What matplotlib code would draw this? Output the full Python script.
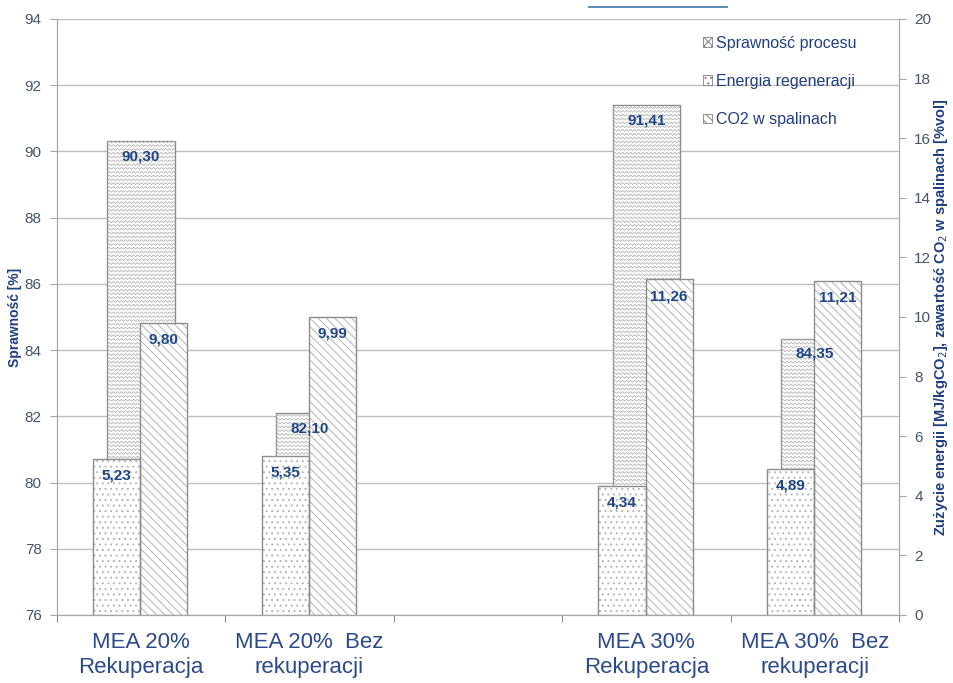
import numpy as np
import matplotlib
matplotlib.use('Agg')
import matplotlib.pyplot as plt
from matplotlib.patches import Patch
from matplotlib.collections import LineCollection
from matplotlib.lines import Line2D
from matplotlib.transforms import IdentityTransform

# Data
categories = ['MEA 20%\nRekuperacja', 'MEA 20%  Bez\nrekuperacji', '',
              'MEA 30%\nRekuperacja', 'MEA 30%  Bez\nrekuperacji']
sprawnosc = [90.30, 82.10, np.nan, 91.41, 84.35]     # [%], left axis
energia = [5.23, 5.35, np.nan, 4.34, 4.89]           # [MJ/kgCO2], right axis
co2 = [9.80, 9.99, np.nan, 11.26, 11.21]             # [%vol], right axis

plt.rcParams['font.family'] = ['Liberation Sans', 'DejaVu Sans']
plt.rcParams['hatch.linewidth'] = 0.7

tick_col = '#44546A'
lab_col = '#1F3F80'
val_col = '#1F4788'
edge_col = '#8C8C8C'
hatch_col = '#B4B4B4'
grid_col = '#BFBFBF'

fig = plt.figure(figsize=(9.54, 6.83), dpi=100)
ax = fig.add_axes([0.0597, 0.0996, 0.8826, 0.8726])
ax2 = ax.twinx()

x = np.arange(len(categories))


def hatched_bar(a, xs, vals, width, hatch, align='center'):
    # light hatch fill with a darker outline drawn on top
    a.bar(xs, vals, width=width, align=align, color='white', edgecolor=hatch_col,
          linewidth=0, hatch=hatch, zorder=2)
    return a.bar(xs, vals, width=width, align=align, facecolor='none',
                 edgecolor=edge_col, linewidth=1, zorder=2.6)


# Sprawność - wide bars on the left axis
zz_bars = ax.bar(x, sprawnosc, width=0.40, color='white',
                 edgecolor=edge_col, linewidth=1, zorder=2)
ax.set_ylim(76, 94)
ax.set_xlim(-0.5, len(categories) - 0.5)
ax.set_yticks(np.arange(76, 95, 2))
ax.yaxis.grid(True, color=grid_col, linewidth=1)
ax.set_axisbelow(True)

# Energia + CO2 - narrow bars on the right axis
hatched_bar(ax2, x - 0.285, energia, 0.28, '...', align='edge')
hatched_bar(ax2, x - 0.005, co2, 0.28, '\\\\\\\\', align='edge')
ax2.set_ylim(0, 20)
ax2.set_yticks(np.arange(0, 21, 2))

# zigzag fill for the efficiency bars
ax_ext = ax.get_window_extent()
for b in zz_bars:
    if np.isnan(b.get_height()):
        continue
    ext = b.get_window_extent()
    x0, x1 = ext.x0, ext.x1
    y0, y1 = max(ext.y0, ax_ext.y0), ext.y1
    xs = np.arange(x0, x1 + 2, 2.0)
    segs = []
    for yy in np.arange(y0 + 1, y1 - 1, 3.8):
        ys = yy + np.where(np.arange(len(xs)) % 2 == 0, 0.0, 1.9)
        segs.append(np.column_stack([xs, ys]))
    lc = LineCollection(segs, colors=hatch_col, linewidths=0.6,
                        transform=IdentityTransform(), zorder=2.5)
    ax.add_collection(lc)
    lc.set_clip_path(b)


def fmt(v):
    return f'{v:.2f}'.replace('.', ',')


# value labels on top of everything
for i in x:
    if not np.isnan(sprawnosc[i]):
        ax2.annotate(fmt(sprawnosc[i]), (i, sprawnosc[i]),
                     xycoords=ax.transData, xytext=(0, -11), textcoords='offset points',
                     ha='center', va='center', fontsize=11, fontweight='bold',
                     color=val_col, zorder=5)
    if not np.isnan(energia[i]):
        ax2.annotate(fmt(energia[i]), (i - 0.145, energia[i]),
                     xytext=(0, -12), textcoords='offset points',
                     ha='center', va='center', fontsize=11, fontweight='bold',
                     color=val_col, zorder=5)
    if not np.isnan(co2[i]):
        ax2.annotate(fmt(co2[i]), (i + 0.135, co2[i]),
                     xytext=(0, -12), textcoords='offset points',
                     ha='center', va='center', fontsize=11, fontweight='bold',
                     color=val_col, zorder=5)

# x axis: ticks at category boundaries, labels centred
ax.set_xticks(np.arange(-0.5, len(categories), 1.0))
ax.set_xticklabels([])
ax.set_xticks(x, minor=True)
ax.set_xticklabels(categories, minor=True, fontsize=16, color='#2A4A8A',
                   linespacing=1.3)
ax.tick_params(axis='x', which='minor', length=0, pad=12)
ax.tick_params(axis='x', which='major', length=5, color=edge_col)

for a in (ax, ax2):
    for s in ('left', 'right', 'bottom'):
        a.spines[s].set_color('#A6A6A6')
    a.spines['top'].set_visible(False)
ax.tick_params(axis='y', labelsize=11, colors=tick_col, length=5, pad=6)
ax.tick_params(axis='y', color='#A6A6A6')
ax2.tick_params(axis='y', labelsize=11, colors=tick_col, length=5, pad=6)
ax2.tick_params(axis='y', color='#A6A6A6')

ax.set_ylabel('Sprawność [%]', fontsize=10, fontweight='bold', color=lab_col)
ax.yaxis.set_label_coords(-0.041, 0.5)
ax2.set_ylabel('Zużycie energii [MJ/kgCO$_2$], zawartość CO$_2$ w spalinach [%vol]',
               fontsize=10.5, fontweight='bold', color=lab_col)
ax2.yaxis.set_label_coords(1.039, 0.5)

# legend
handles = [Patch(facecolor='white', edgecolor='#808080', hatch='xxxx', linewidth=0.6),
           Patch(facecolor='white', edgecolor='#808080', hatch='...', linewidth=0.6),
           Patch(facecolor='white', edgecolor='#808080', hatch='\\\\\\\\', linewidth=0.6)]
leg = ax2.legend(handles, ['Sprawność procesu', 'Energia regeneracji', 'CO2 w spalinach'],
                 loc='upper left', bbox_to_anchor=(0.750, 0.996), frameon=False,
                 fontsize=11.5, handlelength=0.55, handleheight=0.55, handletextpad=0.25,
                 labelspacing=1.45)
for t in leg.get_texts():
    t.set_color(lab_col)

# short rule above the plot area
fig.add_artist(Line2D([589 / 954, 727 / 954], [1 - 7 / 683, 1 - 7 / 683],
                      color='#4F82B5', linewidth=1.3))

fig.savefig('out.png', dpi=100)
